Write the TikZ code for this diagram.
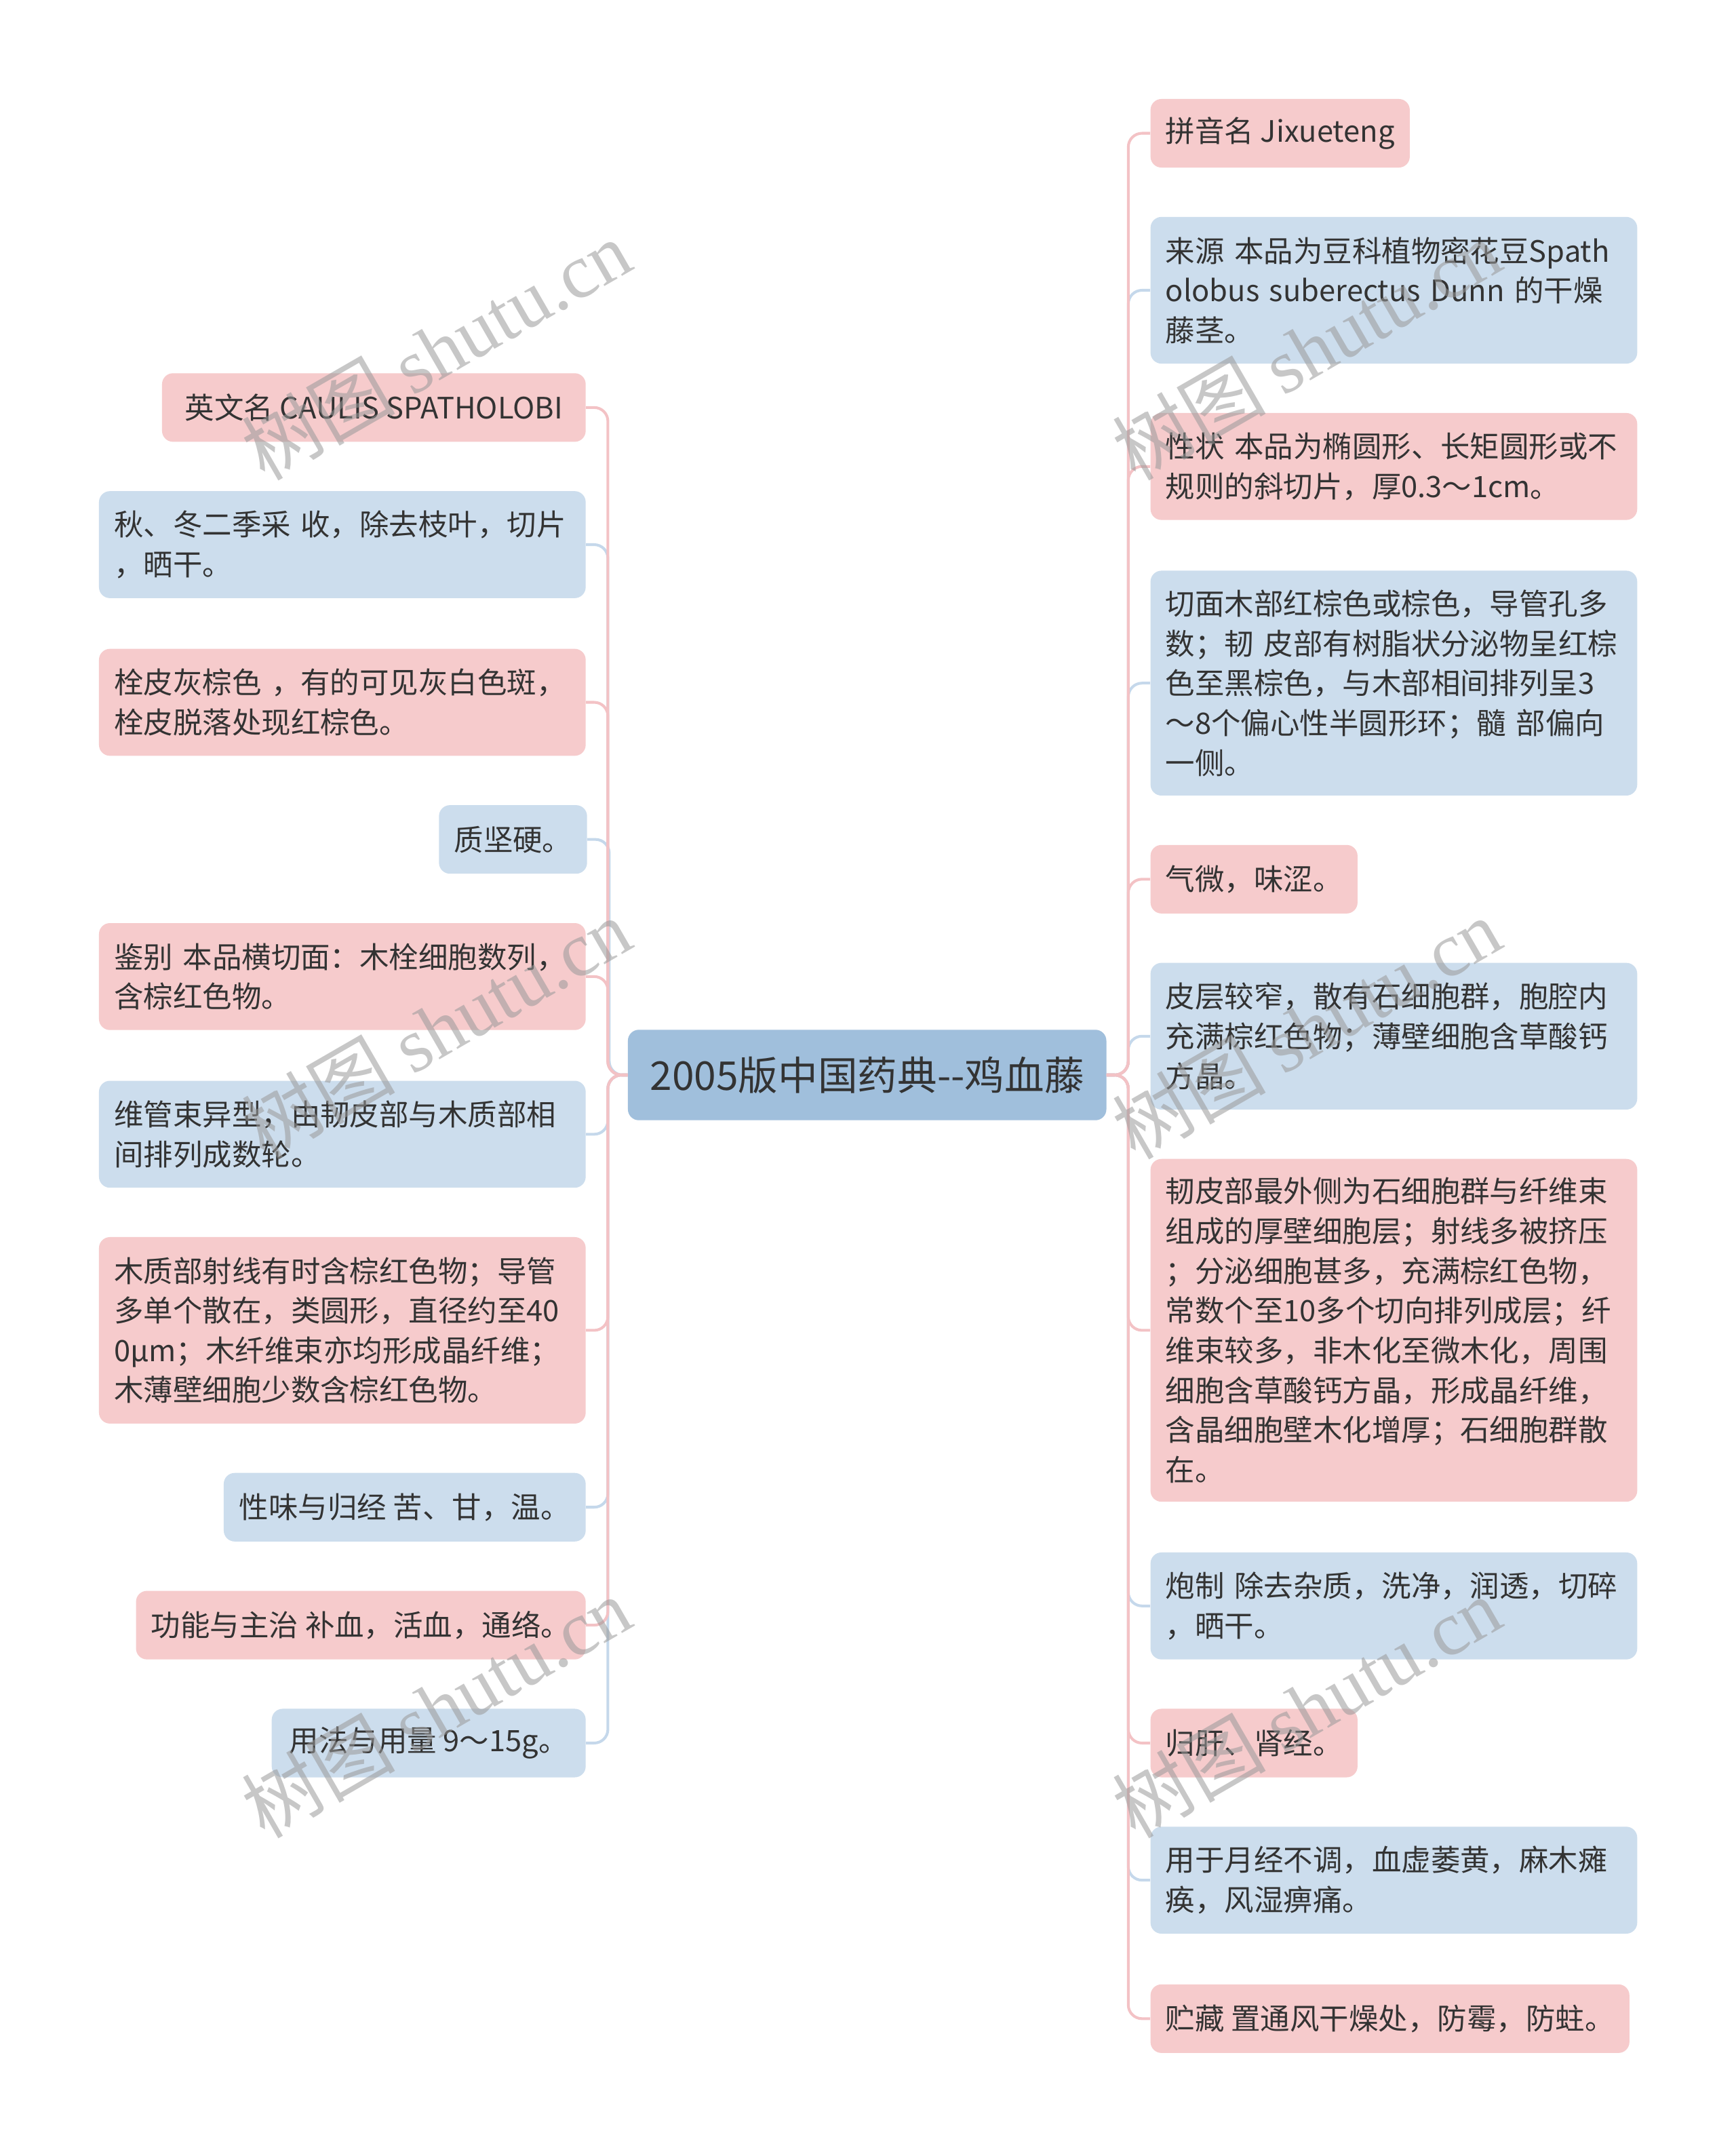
\documentclass[tikz,border=0pt]{standalone}
\usepackage{fontspec}
\setmainfont{Noto Sans CJK SC}
\newfontfamily\wmlatin{Liberation Serif}
\definecolor{pinkfill}{HTML}{F6CBCC}
\definecolor{bluefill}{HTML}{CCDDED}
\definecolor{pinkline}{HTML}{F3C2C5}
\definecolor{blueline}{HTML}{C5D8EB}
\definecolor{rootfill}{HTML}{A0BFDC}
\definecolor{txt}{HTML}{333333}
\begin{document}
\begin{tikzpicture}[x=1pt,y=-1pt,
  leaf/.style={rounded corners=8pt, inner xsep=11pt, inner ysep=0pt, anchor=north west,
    text=txt, font=\fontsize{21.5}{29}\selectfont},
  multi/.style={leaf, align=left, text width=333pt},
  single/.style={leaf, align=center},
  pk/.style={fill=pinkfill},
  bl/.style={fill=bluefill},
  pkl/.style={draw=pinkline, line width=2pt, rounded corners=10pt},
  bll/.style={draw=blueline, line width=2pt, rounded corners=10pt},
  wmark/.style={rotate=30, text=black!40, text opacity=0.55,
    font=\fontsize{56}{62}\selectfont, inner sep=0pt},
]
\fill[white] (0,0) rectangle (1266,1568);
\useasboundingbox (0,0) rectangle (1266,1568);

% root
\node[rounded corners=8pt, fill=rootfill, text=txt, minimum width=349pt, minimum height=66pt,
  inner sep=0pt, font=\fontsize{29}{34}\selectfont] (root) at (632.5,784) {2005版中国药典-{}-鸡血藤};

% left side
\node[single, pk, minimum width=309pt, minimum height=50pt] (L1) at (118,272) {英文名 CAULIS SPATHOLOBI};
\node[multi, bl, minimum height=78pt] (L2) at (72,358) {\mbox{秋、冬二季采 收，除去枝叶，切片}\\，晒干。};
\node[multi, pk, minimum height=78pt] (L3) at (72,473) {\mbox{栓皮灰棕色 ，有的可见灰白色斑，}\\栓皮脱落处现红棕色。};
\node[single, bl, minimum width=107pt, minimum height=50pt] (L4) at (320,587) {质坚硬。};
\node[multi, pk, minimum height=78pt] (L5) at (72,673) {\mbox{鉴别 本品横切面：木栓细胞数列，}\\含棕红色物。};
\node[multi, bl, minimum height=78pt] (L6) at (72,788) {维管束异型，由韧皮部与木质部相\\间排列成数轮。};
\node[multi, pk, minimum height=136pt] (L7) at (72,902) {木质部射线有时含棕红色物；导管\\多单个散在，类圆形，直径约至40\\0μm；木纤维束亦均形成晶纤维；\\木薄壁细胞少数含棕红色物。};
\node[single, bl, minimum width=264pt, minimum height=50pt] (L8) at (163,1074) {性味与归经 苦、甘，温。};
\node[single, pk, minimum width=328pt, minimum height=50pt] (L9) at (99,1160) {功能与主治 补血，活血，通络。};
\node[single, bl, minimum width=229pt, minimum height=50pt] (L10) at (198,1246) {用法与用量 9～15g。};

% right side
\node[single, pk, minimum width=189pt, minimum height=50pt] (R1) at (839,72) {拼音名 Jixueteng};
\node[multi, bl, minimum height=107pt] (R2) at (839,158) {\mbox{来源 本品为豆科植物密花豆Spath}\\\mbox{olobus suberectus Dunn 的干燥}\\藤茎。};
\node[multi, pk, minimum height=78pt] (R3) at (839,301) {\mbox{性状 本品为椭圆形、长矩圆形或不}\\规则的斜切片，厚0.3～1cm。};
\node[multi, bl, minimum height=164pt] (R4) at (839,416) {切面木部红棕色或棕色，导管孔多\\\mbox{数；韧 皮部有树脂状分泌物呈红棕}\\色至黑棕色，与木部相间排列呈3\\\mbox{～8个偏心性半圆形环；髓 部偏向}\\一侧。};
\node[single, pk, minimum width=149pt, minimum height=50pt] (R5) at (839,616) {气微，味涩。};
\node[multi, bl, minimum height=107pt] (R6) at (839,702) {皮层较窄，散有石细胞群，胞腔内\\充满棕红色物；薄壁细胞含草酸钙\\方晶。};
\node[multi, pk, minimum height=250pt] (R7) at (839,845) {韧皮部最外侧为石细胞群与纤维束\\组成的厚壁细胞层；射线多被挤压\\；分泌细胞甚多，充满棕红色物，\\常数个至10多个切向排列成层；纤\\维束较多，非木化至微木化，周围\\细胞含草酸钙方晶，形成晶纤维，\\含晶细胞壁木化增厚；石细胞群散\\在。};
\node[multi, bl, minimum height=78pt] (R8) at (839,1132) {\mbox{炮制 除去杂质，洗净，润透，切碎}\\，晒干。};
\node[single, pk, minimum width=149pt, minimum height=50pt] (R9) at (839,1246) {归肝、肾经。};
\node[multi, bl, minimum height=78pt] (R10) at (839,1332) {用于月经不调，血虚萎黄，麻木瘫\\痪，风湿痹痛。};
\node[single, pk, minimum width=349pt, minimum height=50pt] (R11) at (839,1447) {贮藏 置通风干燥处，防霉，防蛀。};

% connectors left
\foreach \n/\s in {L2/bll,L4/bll,L6/bll,L8/bll,L10/bll,L1/pkl,L3/pkl,L5/pkl,L7/pkl,L9/pkl}
  \draw[\s] (root.west) -| ([xshift=16pt]\n.east) -- (\n.east);
% connectors right
\foreach \n/\s in {R2/bll,R4/bll,R6/bll,R8/bll,R10/bll,R1/pkl,R3/pkl,R5/pkl,R7/pkl,R9/pkl,R11/pkl}
  \draw[\s] (root.east) -| ([xshift=-16pt]\n.west) -- (\n.west);

% watermarks
\node[wmark] (wm1) at (318,255) {树图 {\wmlatin shutu.cn}};
\node[wmark] (wm2) at (318,750) {树图 {\wmlatin shutu.cn}};
\node[wmark] (wm3) at (318,1245) {树图 {\wmlatin shutu.cn}};
\node[wmark] (wm4) at (953,255) {树图 {\wmlatin shutu.cn}};
\node[wmark] (wm5) at (953,750) {树图 {\wmlatin shutu.cn}};
\node[wmark] (wm6) at (953,1245) {树图 {\wmlatin shutu.cn}};
\end{tikzpicture}
\end{document}
